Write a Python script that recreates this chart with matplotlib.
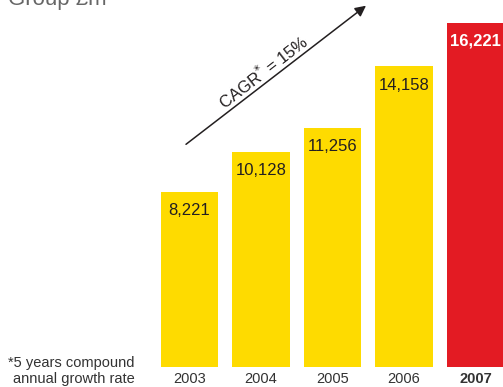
import matplotlib.pyplot as plt

plt.rcParams['font.family'] = ['Liberation Sans', 'DejaVu Sans']

years = ['2003', '2004', '2005', '2006', '2007']
revenue = [8221, 10128, 11256, 14158, 16221]
labels = ['8,221', '10,128', '11,256', '14,158', '16,221']

yellow = '#FEDB00'
red = '#E31B23'
dark = '#231F20'

W, H = 503, 387
fig = plt.figure(figsize=(W / 100, H / 100), dpi=100)

# axes placed in pixel terms, bars start from the baseline
ax = fig.add_axes([160.9 / W, 20.3 / H, 343.2 / W, 344 / H])
colors = [yellow] * 4 + [red]
x = range(len(years))
ax.bar(x, revenue, width=0.8, color=colors)
ax.set_xlim(-0.4, 4.4)
ax.set_ylim(0, max(revenue))
ax.axis('off')

for i, (v, lab) in enumerate(zip(revenue, labels)):
    last = i == len(years) - 1
    ax.annotate(lab, (i, v), xytext=(0, -8), textcoords='offset points',
                ha='center', va='top', fontsize=12,
                color='white' if last else dark,
                fontweight='bold' if last else 'normal')
    ax.annotate(years[i], (i, 0), xytext=(0, -12), textcoords='offset pixels',
                ha='center', va='center', fontsize=10.5, color='#333333',
                fontweight='bold' if last else 'normal')

fig.text(8 / W, 1 - 5 / H, 'Group £m', fontsize=16, color='#666666',
         ha='left', va='baseline')

fig.text(135 / W, 1 - 363 / H, '*5 years compound', fontsize=10.5,
         color='#333333', ha='right', va='center')
fig.text(135 / W, 1 - 379 / H, 'annual growth rate', fontsize=10.5,
         color='#333333', ha='right', va='center')

# growth arrow
ax.annotate('', xy=(366 / W, 1 - 5.7 / H), xytext=(186 / W, 1 - 144.3 / H),
            xycoords='figure fraction', textcoords='figure fraction',
            arrowprops=dict(arrowstyle='-|>', lw=1.1, color=dark,
                            mutation_scale=16, shrinkA=0, shrinkB=0))
fig.text(263 / W, 1 - 72 / H, 'CAGR$^{*}$ = 15%', fontsize=12, color=dark,
         rotation=37.6, rotation_mode='anchor', ha='center', va='center')

fig.savefig('out.png', dpi=100)
